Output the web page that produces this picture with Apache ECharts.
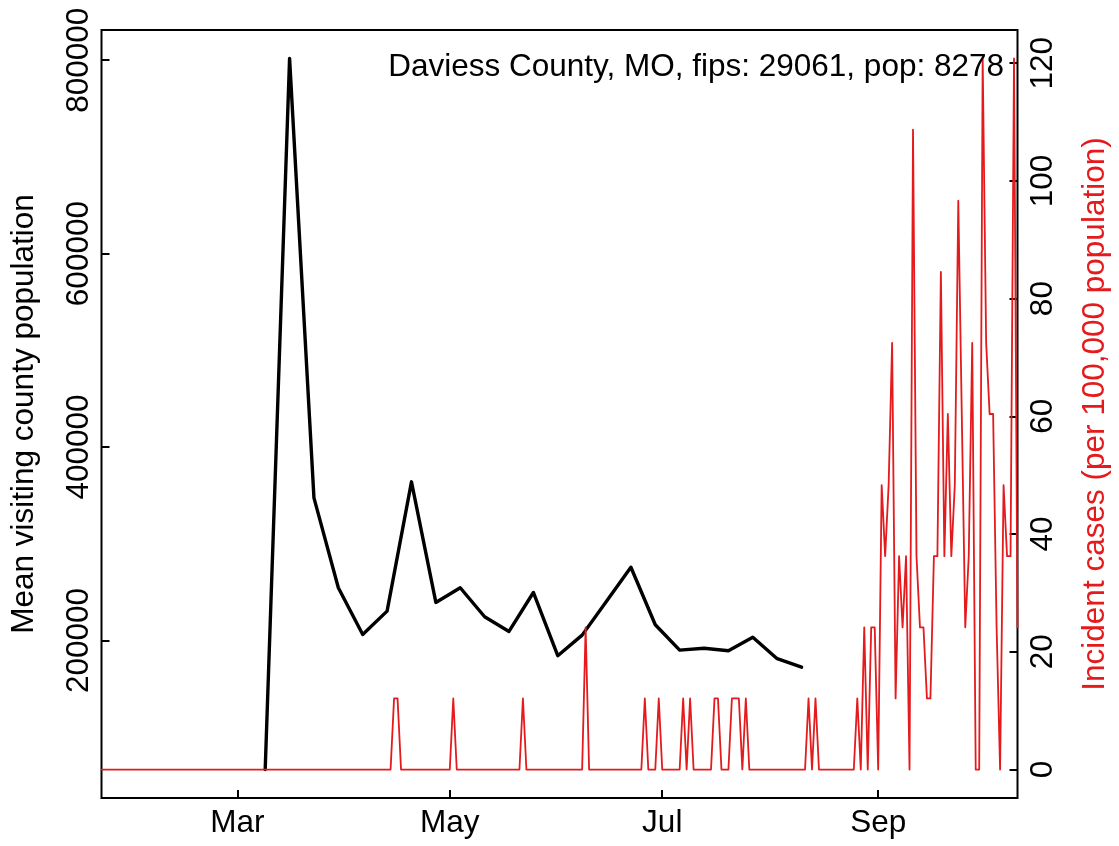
<!DOCTYPE html>
<html><head><meta charset="utf-8">
<script src="https://cdn.jsdelivr.net/npm/echarts@6/dist/echarts.min.js"></script>
<style>html,body{margin:0;padding:0;background:#fff}#chart{width:1119px;height:846px}</style>
</head><body><div id="chart"></div>
<script>
const chartTitle = 'Daviess County, MO, fips: 29061, pop: 8278';
const leftAxisTitle = 'Mean visiting county population';
const rightAxisTitle = 'Incident cases (per 100,000 population)';

const xTickDates = ['2020-03-01', '2020-05-01', '2020-07-01', '2020-09-01'];
const xTickLabels = ['Mar', 'May', 'Jul', 'Sep'];
const leftTicks = [200000, 400000, 600000, 800000];
const leftTickLabels = ['200000', '400000', '600000', '800000'];
const rightTicks = [0, 20, 40, 60, 80, 100, 120];
const rightTickLabels = ['0', '20', '40', '60', '80', '100', '120'];

// weekly mean visiting county population (black)
const visitDates = ['2020-03-09','2020-03-16','2020-03-23','2020-03-30','2020-04-06','2020-04-13',
  '2020-04-20','2020-04-27','2020-05-04','2020-05-11','2020-05-18','2020-05-25','2020-06-01',
  '2020-06-08','2020-06-15','2020-06-22','2020-06-29','2020-07-06','2020-07-13','2020-07-20',
  '2020-07-27','2020-08-03','2020-08-10'];
const visitMean = [66500, 801800, 347400, 254500, 206200, 230300, 364000, 239300, 254500,
  224500, 209300, 249600, 184200, 205500, 240600, 275700, 216200, 190000, 192000, 189400,
  203400, 181100, 172400];

// daily incident cases per 100,000 (red), starting 2020-01-22
const caseStartDate = '2020-01-22';
const incJan = [0,0,0,0,0,0,0,0,0,0];
const incFeb = [0,0,0,0,0,0,0,0,0,0, 0,0,0,0,0,0,0,0,0,0, 0,0,0,0,0,0,0,0,0];
const incMar = [0,0,0,0,0,0,0,0,0,0, 0,0,0,0,0,0,0,0,0,0, 0,0,0,0,0,0,0,0,0,0,0];
const incApr = [0,0,0,0,0,0,0,0,0,0, 0,0,0,0,12.08,12.08,0,0,0,0, 0,0,0,0,0,0,0,0,0,0];
const incMay = [0,12.08,0,0,0,0,0,0,0,0, 0,0,0,0,0,0,0,0,0,0, 0,12.08,0,0,0,0,0,0,0,0,0];
const incJun = [0,0,0,0,0,0,0,0,24.16,0, 0,0,0,0,0,0,0,0,0,0, 0,0,0,0,0,12.08,0,0,0,12.08];
const incJul = [0,0,0,0,0,0,12.08,0,12.08,0, 0,0,0,0,0,12.08,12.08,0,0,0, 12.08,12.08,12.08,0,12.08,0,0,0,0,0,0];
const incAug = [0,0,0,0,0,0,0,0,0,0, 0,12.08,0,12.08,0,0,0,0,0,0, 0,0,0,0,0,12.08,0,24.16,0,24.16,24.16];
const incSep = [0,48.32,36.24,48.32,72.48,12.08,36.24,24.16,36.24,0, 108.72,36.24,24.16,24.16,12.08,12.08,36.24,36.24,84.56,36.24,
  60.4,36.24,48.32,96.64,60.4,24.16,36.24,72.48,0,0];
const incOct = [120.8,72.48,60.4,60.4,24.16,0,48.32,36.24,36.24,120.8,24.16];

const DAY = 86400000;
const T0 = Date.parse('2020-01-01');
const dayNum = s => (Date.parse(s) - T0) / DAY;

const incidence = [].concat(incJan, incFeb, incMar, incApr, incMay, incJun, incJul, incAug, incSep, incOct);
const caseStart = dayNum(caseStartDate);
const redData = incidence.map((v, i) => [caseStart + i, v]);
const blackData = visitDates.map((d, i) => [dayNum(d), visitMean[i]]);

// R-style 4% axis extension
const ext = (lo, hi) => { const r = hi - lo; return [lo - 0.04 * r, hi + 0.04 * r]; };
const [lMin, lMax] = ext(Math.min(...visitMean), Math.max(...visitMean));
const [rMin, rMax] = ext(Math.min(...incidence), Math.max(...incidence));
const xMin = caseStart, xMax = caseStart + incidence.length - 1;

const xTickDays = xTickDates.map(dayNum);
const FONT = '"Liberation Sans", Arial, Helvetica, sans-serif';
const FS = 31.5;
const RED = '#E41A1C';

const chart = echarts.init(document.getElementById('chart'), null, {renderer: 'canvas'});
chart.setOption({
  animation: false,
  backgroundColor: '#fff',
  title: {
    text: chartTitle, right: 115, top: 52, padding: 0,
    textStyle: {fontFamily: FONT, fontSize: FS, fontWeight: 'normal', color: '#000', lineHeight: 31}
  },
  grid: {left: 99, right: 98, top: 30, bottom: 48, show: true, borderColor: '#000', borderWidth: 2, containLabel: false},
  xAxis: {
    type: 'value', min: xMin, max: xMax,
    axisLine: {show: false, onZero: false}, splitLine: {show: false},
    axisTick: {show: true, inside: true, length: 8, lineStyle: {color: '#000', width: 2}, customValues: xTickDays},
    axisLabel: {
      customValues: xTickDays, margin: 10, color: '#000', fontFamily: FONT, fontSize: FS, lineHeight: 31,
      formatter: v => xTickLabels[xTickDays.indexOf(v)]
    }
  },
  yAxis: [{
    type: 'value', position: 'left', min: lMin, max: lMax,
    axisLine: {show: false, onZero: false}, splitLine: {show: false},
    axisTick: {show: true, inside: true, length: 8, lineStyle: {color: '#000', width: 2}, customValues: leftTicks},
    axisLabel: {
      customValues: leftTicks, rotate: 90, margin: 7, color: '#000', fontFamily: FONT, fontSize: FS, lineHeight: 31,
      formatter: v => leftTickLabels[leftTicks.indexOf(v)]
    },
    name: leftAxisTitle, nameLocation: 'middle', nameRotate: 90, nameGap: 62,
    nameTextStyle: {color: '#000', fontFamily: FONT, fontSize: FS, lineHeight: 31}
  }, {
    type: 'value', position: 'right', min: rMin, max: rMax,
    axisLine: {show: false, onZero: false}, splitLine: {show: false},
    axisTick: {show: true, inside: true, length: 8, lineStyle: {color: '#000', width: 2}, customValues: rightTicks},
    axisLabel: {
      customValues: rightTicks, rotate: 90, margin: 10, color: '#000', fontFamily: FONT, fontSize: FS, lineHeight: 31,
      formatter: v => rightTickLabels[rightTicks.indexOf(v)]
    },
    name: rightAxisTitle, nameLocation: 'middle', nameRotate: 90, nameGap: 62,
    nameTextStyle: {color: RED, fontFamily: FONT, fontSize: FS, lineHeight: 31}
  }],
  series: [{
    type: 'line', name: 'visits', data: blackData, xAxisIndex: 0, yAxisIndex: 0,
    showSymbol: false, symbol: 'none', clip: true,
    lineStyle: {color: '#000', width: 3.4, join: 'round', cap: 'round'}, z: 2
  }, {
    type: 'line', name: 'cases', data: redData, xAxisIndex: 0, yAxisIndex: 1,
    showSymbol: false, symbol: 'none', clip: true,
    lineStyle: {color: RED, width: 1.8, join: 'round', cap: 'round'}, z: 3
  }]
});
</script></body></html>
